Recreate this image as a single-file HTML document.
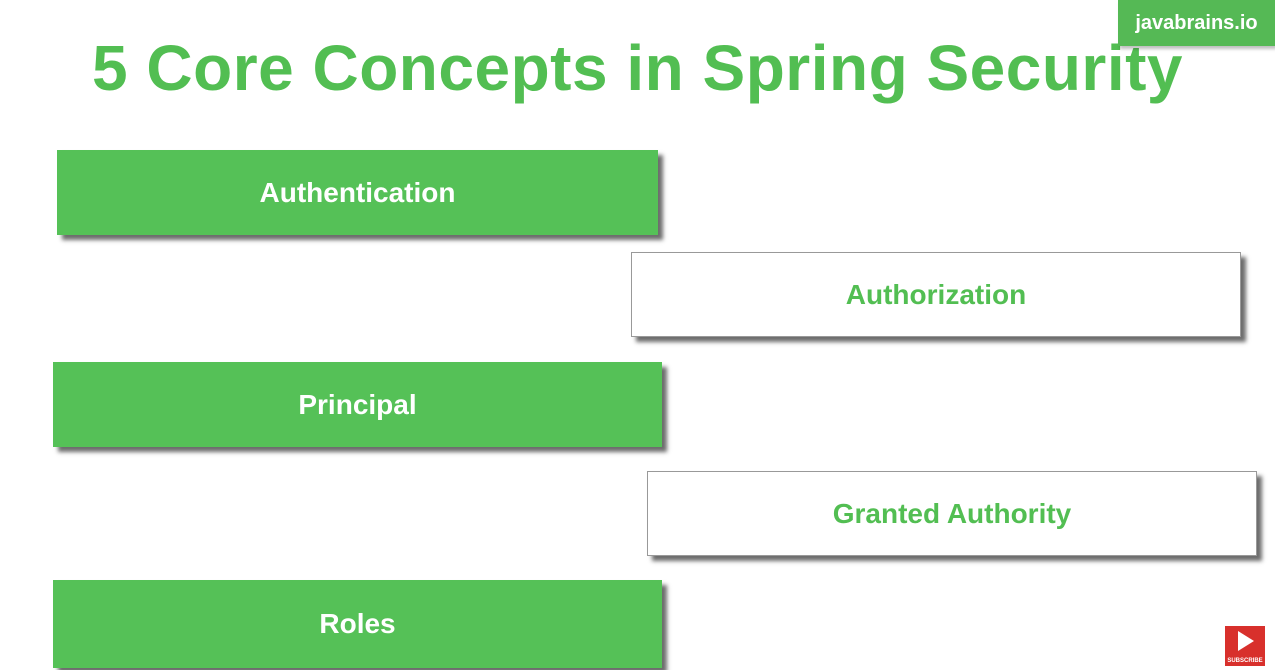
<!DOCTYPE html>
<html><head><meta charset="utf-8"><style>
body{margin:0;width:1275px;height:670px;background:#fff;position:relative;overflow:hidden;font-family:"Liberation Sans",sans-serif}
.t{position:absolute;left:0;width:1275px;top:31px;text-align:center;font-size:64px;font-weight:bold;color:#52be52;letter-spacing:0.5px}
.b{position:absolute;height:85px;display:flex;align-items:center;justify-content:center;font-weight:bold;font-size:28px;box-shadow:5px 5px 4px rgba(60,60,60,0.75);box-sizing:border-box}
.g{background:#55c157;color:#fff}
.w{background:#fff;color:#52be52;border:1px solid #999}
.logo{position:absolute;left:1118px;top:0;width:157px;height:46px;background:#55b955;color:#fff;font-weight:bold;font-size:20px;display:flex;align-items:center;justify-content:center;box-shadow:2px 3px 3px rgba(0,0,0,0.25)}
.sub{position:absolute;left:1225px;top:626px;width:40px;height:40px;background:#d8302c;color:#fff;font-size:6px;font-weight:bold;text-align:center}
</style></head><body>
<div class="t">5 Core Concepts in Spring Security</div>
<div class="logo">javabrains.io</div>
<div class="b g" style="left:57px;top:150px;width:601px">Authentication</div>
<div class="b w" style="left:631px;top:252px;width:610px">Authorization</div>
<div class="b g" style="left:53px;top:362px;width:609px">Principal</div>
<div class="b w" style="left:647px;top:471px;width:610px">Granted Authority</div>
<div class="b g" style="left:53px;top:580px;width:609px;height:88px">Roles</div>
<div class="sub"><svg width="40" height="30" viewBox="0 0 40 30"><polygon points="13,5 29,15 13,25" fill="#fff"/></svg>SUBSCRIBE</div>
</body></html>
